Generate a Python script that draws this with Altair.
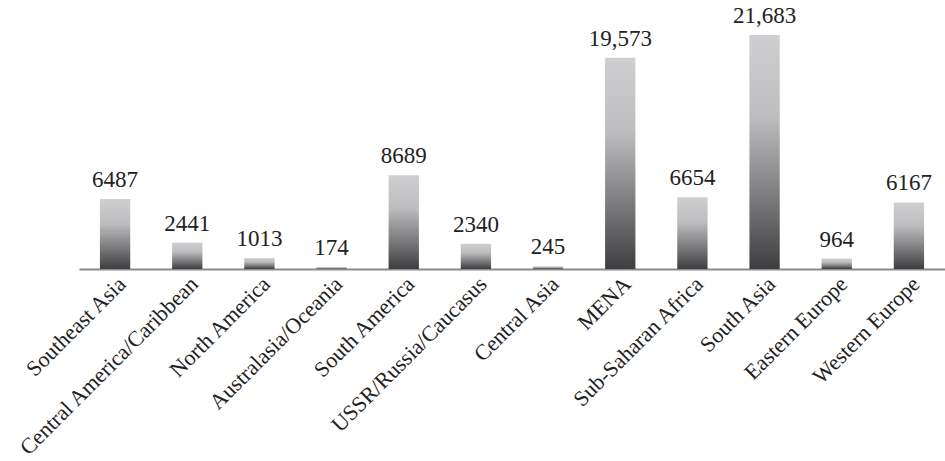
import altair as alt
import pandas as pd

regions = ["Southeast Asia", "Central America/Caribbean", "North America",
           "Australasia/Oceania", "South America", "USSR/Russia/Caucasus",
           "Central Asia", "MENA", "Sub-Saharan Africa", "South Asia",
           "Eastern Europe", "Western Europe"]
values = [6487, 2441, 1013, 174, 8689, 2340, 245, 19573, 6654, 21683, 964, 6167]
labels = [f"{v:,}" if v >= 10000 else str(v) for v in values]

df = pd.DataFrame({"region": regions, "value": values, "label": labels})

FONT = "Liberation Serif"

grad = alt.LinearGradient(
    gradient="linear", x1=0, y1=0, x2=0, y2=1,
    stops=[alt.GradientStop(offset=0, color="#cfcfd1"),
           alt.GradientStop(offset=0.35, color="#bdbdbf"),
           alt.GradientStop(offset=0.7, color="#7a7a7c"),
           alt.GradientStop(offset=1, color="#3e3e40")])

x = alt.X("region:N", sort=regions, title=None,
          scale=alt.Scale(paddingInner=0.58, paddingOuter=0.29),
          axis=alt.Axis(labelAngle=-45, labelFont=FONT, labelFontSize=22,
                        labelColor="#222222", ticks=False, domainColor="#8a8a8a",
                        domainWidth=2, labelPadding=4, labelLimit=400))
y = alt.Y("value:Q", scale=alt.Scale(domain=[0, 24000]), axis=None)

bars = alt.Chart(df).mark_bar(color=grad).encode(x=x, y=y)
text = alt.Chart(df).mark_text(font=FONT, fontSize=23, color="#222222",
                               baseline="bottom", dy=-7).encode(
    x=alt.X("region:N", sort=regions), y=y, text="label:N")

chart = (bars + text).properties(
    width=866, height=259,
    autosize=alt.AutoSizeParams(type="none"),
    padding={"left": 79, "top": 10, "right": 0, "bottom": 192},
).configure_view(stroke=None)

chart.save("out.html", embed_options={"renderer": "svg", "actions": False})
